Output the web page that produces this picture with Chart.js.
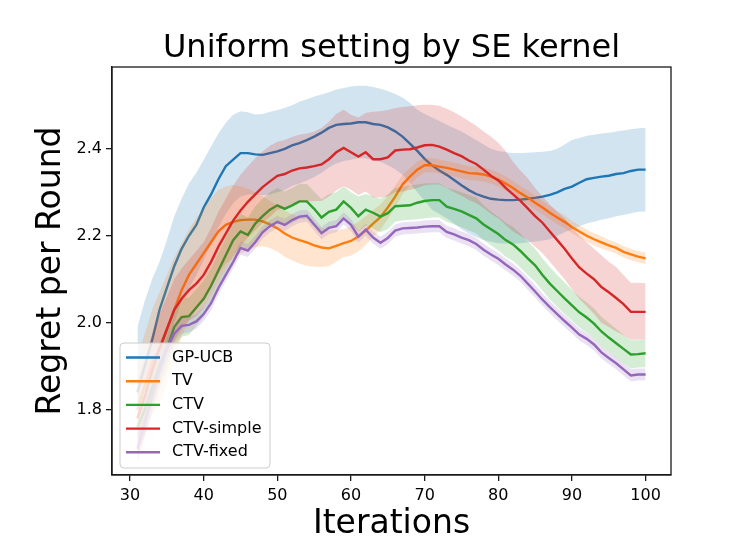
<!DOCTYPE html>
<html>
<head>
<meta charset="utf-8">
<script src="https://cdn.jsdelivr.net/npm/chart.js@4.4.0/dist/chart.umd.min.js"></script>
<style>
  html, body { margin: 0; padding: 0; background: #fff; }
  canvas { display: block; }
</style>
</head>
<body>
<canvas id="chart" width="747" height="560"></canvas>
<script>
// Iterations on the x axis
const iterations = [
  31, 32, 33, 34, 35, 36, 37, 38, 39, 40,
  41, 42, 43, 44, 45, 46, 47, 48, 49, 50,
  51, 52, 53, 54, 55, 56, 57, 58, 59, 60,
  61, 62, 63, 64, 65, 66, 67, 68, 69, 70,
  71, 72, 73, 74, 75, 76, 77, 78, 79, 80,
  81, 82, 83, 84, 85, 86, 87, 88, 89, 90,
  91, 92, 93, 94, 95, 96, 97, 98, 99, 100
];
const xTicks = [30, 40, 50, 60, 70, 80, 90, 100];
const yTicks = [1.8, 2.0, 2.2, 2.4];
const seriesNames = ['GP-UCB', 'TV', 'CTV', 'CTV-simple', 'CTV-fixed'];
const chartTitle = 'Uniform setting by SE kernel';

// GP-UCB
const gpUcbMean = [
  1.84, 1.90, 1.96, 2.03, 2.08, 2.13, 2.17, 2.20, 2.225, 2.265,
  2.295, 2.33, 2.36, 2.375, 2.39, 2.39, 2.387, 2.386, 2.39, 2.394,
  2.40, 2.408, 2.413, 2.42, 2.428, 2.437, 2.448, 2.455, 2.457, 2.458,
  2.461, 2.461, 2.457, 2.455, 2.449, 2.44, 2.428, 2.412, 2.395, 2.377,
  2.362, 2.35, 2.34, 2.328, 2.316, 2.305, 2.296, 2.29, 2.285, 2.283,
  2.282, 2.282, 2.283, 2.285, 2.287, 2.29, 2.294, 2.30, 2.308, 2.313,
  2.322, 2.33, 2.333, 2.336, 2.338, 2.342, 2.344, 2.349, 2.352, 2.352
];
const gpUcbUpper = [
  1.99, 2.05, 2.10, 2.14, 2.19, 2.245, 2.285, 2.32, 2.345, 2.375,
  2.405, 2.435, 2.46, 2.478, 2.486, 2.484, 2.479, 2.48, 2.485, 2.489,
  2.494, 2.50, 2.508, 2.514, 2.52, 2.525, 2.53, 2.536, 2.54, 2.543,
  2.545, 2.545, 2.542, 2.538, 2.533, 2.526, 2.518, 2.505, 2.49, 2.48,
  2.472, 2.464, 2.455, 2.447, 2.44, 2.43, 2.42, 2.41, 2.40, 2.395,
  2.392, 2.39, 2.39, 2.391, 2.392, 2.393, 2.395, 2.40, 2.41, 2.42,
  2.425, 2.43, 2.432, 2.435, 2.437, 2.44, 2.442, 2.445, 2.447, 2.448
];
const gpUcbLower = [
  1.71, 1.77, 1.83, 1.89, 1.95, 2.00, 2.05, 2.08, 2.11, 2.145,
  2.18, 2.22, 2.25, 2.275, 2.29, 2.295, 2.295, 2.293, 2.295, 2.30,
  2.305, 2.315, 2.32, 2.327, 2.335, 2.345, 2.357, 2.366, 2.372, 2.375,
  2.378, 2.378, 2.373, 2.37, 2.362, 2.353, 2.34, 2.322, 2.30, 2.28,
  2.26, 2.25, 2.24, 2.228, 2.215, 2.205, 2.197, 2.19, 2.186, 2.183,
  2.182, 2.182, 2.183, 2.185, 2.187, 2.189, 2.192, 2.20, 2.208, 2.215,
  2.222, 2.228, 2.232, 2.237, 2.24, 2.245, 2.248, 2.252, 2.255, 2.256
];

// TV
const tvMean = [
  1.80, 1.855, 1.91, 1.94, 1.985, 2.03, 2.075, 2.11, 2.135, 2.16,
  2.185, 2.21, 2.225, 2.232, 2.236, 2.237, 2.237, 2.233, 2.226, 2.217,
  2.205, 2.196, 2.19, 2.185, 2.178, 2.173, 2.171, 2.177, 2.183, 2.188,
  2.198, 2.212, 2.228, 2.243, 2.265, 2.29, 2.318, 2.336, 2.352, 2.362,
  2.362, 2.359, 2.356, 2.352, 2.348, 2.344, 2.343, 2.341, 2.336, 2.329,
  2.32, 2.31, 2.298, 2.288, 2.276, 2.265, 2.253, 2.242, 2.232, 2.22,
  2.21, 2.2, 2.192, 2.185, 2.178, 2.172, 2.163, 2.157, 2.152, 2.148
];
const tvUpper = [
  1.92, 1.975, 2.03, 2.07, 2.11, 2.15, 2.183, 2.215, 2.24, 2.265,
  2.287, 2.306, 2.313, 2.317, 2.313, 2.308, 2.30, 2.29, 2.28, 2.27,
  2.258, 2.249, 2.244, 2.239, 2.227, 2.218, 2.212, 2.214, 2.215, 2.222,
  2.232, 2.245, 2.259, 2.272, 2.292, 2.315, 2.34, 2.356, 2.37, 2.378,
  2.378, 2.375, 2.372, 2.368, 2.364, 2.36, 2.359, 2.357, 2.352, 2.345,
  2.336, 2.326, 2.314, 2.304, 2.292, 2.28, 2.268, 2.257, 2.247, 2.234,
  2.224, 2.214, 2.206, 2.199, 2.191, 2.185, 2.176, 2.17, 2.165, 2.161
];
const tvLower = [
  1.68, 1.735, 1.79, 1.81, 1.86, 1.91, 1.967, 2.005, 2.03, 2.055,
  2.083, 2.114, 2.137, 2.147, 2.159, 2.166, 2.174, 2.176, 2.172, 2.164,
  2.152, 2.143, 2.136, 2.131, 2.129, 2.128, 2.13, 2.14, 2.151, 2.154,
  2.164, 2.179, 2.197, 2.214, 2.238, 2.265, 2.296, 2.316, 2.334, 2.346,
  2.346, 2.343, 2.34, 2.336, 2.332, 2.328, 2.327, 2.325, 2.32, 2.313,
  2.304, 2.294, 2.282, 2.272, 2.26, 2.25, 2.238, 2.227, 2.217, 2.206,
  2.196, 2.186, 2.178, 2.171, 2.165, 2.159, 2.15, 2.144, 2.139, 2.135
];

// CTV
const ctvMean = [
  1.76, 1.80, 1.85, 1.90, 1.94, 1.99, 2.013, 2.015, 2.035, 2.055,
  2.085, 2.12, 2.155, 2.19, 2.21, 2.202, 2.228, 2.245, 2.26, 2.27,
  2.262, 2.27, 2.279, 2.279, 2.262, 2.242, 2.255, 2.26, 2.279, 2.264,
  2.245, 2.26, 2.253, 2.244, 2.252, 2.268, 2.269, 2.27, 2.276, 2.28,
  2.282, 2.282, 2.267, 2.262, 2.256, 2.248, 2.24, 2.226, 2.215, 2.204,
  2.19, 2.18, 2.165, 2.148, 2.132, 2.11, 2.09, 2.073, 2.056, 2.04,
  2.024, 2.012, 1.998, 1.98, 1.966, 1.953, 1.94, 1.927, 1.928, 1.93
];
const ctvUpper = [
  1.82, 1.86, 1.91, 1.955, 1.99, 2.035, 2.058, 2.058, 2.077, 2.097,
  2.125, 2.16, 2.195, 2.23, 2.25, 2.242, 2.268, 2.285, 2.30, 2.31,
  2.302, 2.31, 2.319, 2.319, 2.302, 2.284, 2.296, 2.30, 2.313, 2.30,
  2.29, 2.296, 2.29, 2.285, 2.295, 2.31, 2.312, 2.316, 2.318, 2.32,
  2.321, 2.321, 2.31, 2.306, 2.30, 2.294, 2.288, 2.27, 2.256, 2.244,
  2.23, 2.22, 2.205, 2.188, 2.17, 2.148, 2.128, 2.11, 2.093, 2.076,
  2.06, 2.047, 2.033, 2.014, 2.0, 1.986, 1.973, 1.96, 1.96, 1.961
];
const ctvLower = [
  1.70, 1.74, 1.79, 1.845, 1.89, 1.945, 1.968, 1.972, 1.993, 2.013,
  2.045, 2.08, 2.115, 2.15, 2.17, 2.162, 2.188, 2.205, 2.22, 2.23,
  2.222, 2.23, 2.239, 2.239, 2.222, 2.206, 2.216, 2.22, 2.245, 2.228,
  2.21, 2.224, 2.216, 2.208, 2.215, 2.232, 2.235, 2.237, 2.238, 2.24,
  2.242, 2.242, 2.232, 2.226, 2.22, 2.212, 2.205, 2.19, 2.178, 2.166,
  2.152, 2.142, 2.127, 2.11, 2.094, 2.074, 2.054, 2.037, 2.02, 2.005,
  1.989, 1.978, 1.964, 1.946, 1.933, 1.92, 1.907, 1.895, 1.897, 1.898
];

// CTV-simple
const ctvSimpleMean = [
  1.78, 1.83, 1.89, 1.94, 1.985, 2.03, 2.055, 2.075, 2.09, 2.11,
  2.14, 2.175, 2.205, 2.235, 2.258, 2.278, 2.295, 2.312, 2.325, 2.338,
  2.342, 2.35, 2.355, 2.357, 2.36, 2.364, 2.376, 2.392, 2.402, 2.392,
  2.382, 2.392, 2.376, 2.376, 2.38, 2.396, 2.398, 2.399, 2.403, 2.408,
  2.409, 2.405, 2.398, 2.39, 2.383, 2.373, 2.365, 2.352, 2.338, 2.327,
  2.31, 2.295, 2.28, 2.263, 2.245, 2.23, 2.21, 2.19, 2.17, 2.148,
  2.127, 2.113, 2.1, 2.082, 2.07, 2.057, 2.043, 2.025, 2.025, 2.025
];
const ctvSimpleUpper = [
  1.87, 1.92, 1.975, 2.02, 2.06, 2.10, 2.125, 2.145, 2.165, 2.185,
  2.218, 2.255, 2.285, 2.315, 2.34, 2.36, 2.378, 2.394, 2.407, 2.416,
  2.42, 2.427, 2.432, 2.435, 2.44, 2.448, 2.462, 2.48, 2.49, 2.478,
  2.472, 2.482, 2.485, 2.486, 2.489, 2.494, 2.496, 2.498, 2.50, 2.501,
  2.501, 2.499, 2.492, 2.484, 2.474, 2.464, 2.453, 2.44, 2.428, 2.414,
  2.395, 2.37, 2.35, 2.332, 2.31, 2.29, 2.272, 2.255, 2.24, 2.22,
  2.20, 2.185, 2.17, 2.155, 2.14, 2.128, 2.11, 2.092, 2.092, 2.091
];
const ctvSimpleLower = [
  1.69, 1.74, 1.805, 1.86, 1.91, 1.96, 1.985, 2.005, 2.015, 2.035,
  2.062, 2.095, 2.125, 2.155, 2.176, 2.196, 2.212, 2.23, 2.243, 2.26,
  2.264, 2.273, 2.278, 2.279, 2.28, 2.28, 2.29, 2.304, 2.314, 2.306,
  2.294, 2.302, 2.288, 2.288, 2.29, 2.30, 2.302, 2.306, 2.31, 2.316,
  2.318, 2.318, 2.31, 2.30, 2.292, 2.282, 2.275, 2.264, 2.25, 2.24,
  2.225, 2.21, 2.20, 2.19, 2.175, 2.16, 2.14, 2.12, 2.10, 2.077,
  2.055, 2.038, 2.02, 2.0, 1.99, 1.98, 1.972, 1.961, 1.961, 1.961
];

// CTV-fixed
const ctvFixedMean = [
  1.71, 1.77, 1.83, 1.89, 1.94, 1.975, 1.993, 1.995, 2.003, 2.02,
  2.045, 2.08, 2.11, 2.14, 2.172, 2.166, 2.185, 2.208, 2.222, 2.232,
  2.225, 2.236, 2.244, 2.246, 2.226, 2.206, 2.218, 2.222, 2.24, 2.225,
  2.198, 2.214, 2.196, 2.184, 2.195, 2.212, 2.217, 2.218, 2.219, 2.221,
  2.222, 2.222, 2.209, 2.203, 2.196, 2.19, 2.181, 2.168, 2.157, 2.147,
  2.134, 2.122, 2.108, 2.09, 2.072, 2.053, 2.036, 2.02, 2.004, 1.989,
  1.973, 1.963, 1.95, 1.932, 1.919, 1.907, 1.893, 1.879, 1.881, 1.881
];
const ctvFixedUpper = [
  1.74, 1.80, 1.86, 1.915, 1.963, 1.995, 2.011, 2.012, 2.02, 2.036,
  2.061, 2.095, 2.125, 2.155, 2.187, 2.181, 2.2, 2.222, 2.236, 2.246,
  2.239, 2.25, 2.258, 2.26, 2.24, 2.22, 2.232, 2.236, 2.254, 2.239,
  2.212, 2.228, 2.21, 2.198, 2.209, 2.226, 2.231, 2.232, 2.233, 2.235,
  2.236, 2.236, 2.223, 2.217, 2.21, 2.204, 2.195, 2.182, 2.171, 2.161,
  2.148, 2.136, 2.122, 2.104, 2.086, 2.067, 2.05, 2.034, 2.018, 2.003,
  1.987, 1.977, 1.964, 1.946, 1.933, 1.921, 1.907, 1.893, 1.895, 1.895
];
const ctvFixedLower = [
  1.68, 1.74, 1.80, 1.865, 1.917, 1.955, 1.975, 1.978, 1.986, 2.004,
  2.029, 2.065, 2.095, 2.125, 2.157, 2.151, 2.17, 2.194, 2.208, 2.218,
  2.211, 2.222, 2.23, 2.232, 2.212, 2.192, 2.204, 2.208, 2.226, 2.211,
  2.184, 2.2, 2.182, 2.17, 2.181, 2.198, 2.203, 2.204, 2.205, 2.207,
  2.208, 2.208, 2.195, 2.189, 2.182, 2.176, 2.167, 2.154, 2.143, 2.133,
  2.12, 2.108, 2.094, 2.076, 2.058, 2.039, 2.022, 2.006, 1.99, 1.975,
  1.959, 1.949, 1.936, 1.918, 1.905, 1.893, 1.879, 1.865, 1.867, 1.867
];

const colors = ['#1f77b4', '#ff7f0e', '#2ca02c', '#d62728', '#9467bd'];
const bandColors = [
  'rgba(31,119,180,0.2)', 'rgba(255,127,14,0.2)', 'rgba(44,160,44,0.2)',
  'rgba(214,39,40,0.2)', 'rgba(148,103,189,0.2)'
];

const series = [
  { mean: gpUcbMean, upper: gpUcbUpper, lower: gpUcbLower },
  { mean: tvMean, upper: tvUpper, lower: tvLower },
  { mean: ctvMean, upper: ctvUpper, lower: ctvLower },
  { mean: ctvSimpleMean, upper: ctvSimpleUpper, lower: ctvSimpleLower },
  { mean: ctvFixedMean, upper: ctvFixedUpper, lower: ctvFixedLower }
];

function points(values) {
  return iterations.map((x, i) => ({ x: x, y: values[i] }));
}

// line first, then its band on top, like plot() + fill_between()
const datasets = [];
series.forEach((s, i) => {
  const base = 100 - i * 10;
  datasets.push({
    label: seriesNames[i], data: points(s.mean), borderColor: colors[i],
    borderWidth: 2.4, pointRadius: 0, fill: false, order: base
  });
  datasets.push({
    label: '', data: points(s.upper), borderColor: 'transparent',
    borderWidth: 0, pointRadius: 0, fill: false, order: base - 5
  });
  datasets.push({
    label: '', data: points(s.lower), borderColor: 'transparent',
    borderWidth: 0, pointRadius: 0, backgroundColor: bandColors[i],
    fill: '-1', order: base - 5
  });
});

const decorPlugin = {
  id: 'decor',
  afterDraw(chart) {
    const ctx = chart.ctx;
    const a = chart.chartArea;
    ctx.save();

    // top and right spines
    ctx.strokeStyle = '#1a1a1a';
    ctx.lineWidth = 1.3;
    ctx.strokeRect(a.left, a.top, a.right - a.left, a.bottom - a.top);

    // title
    ctx.fillStyle = '#000';
    ctx.font = '32px "DejaVu Sans"';
    ctx.textAlign = 'center';
    ctx.textBaseline = 'alphabetic';
    ctx.fillText(chartTitle, (a.left + a.right) / 2, 57);

    // legend box, lower left inside the axes
    const boxW = 150, boxH = 125;
    const boxX = a.left + 8;
    const boxY = a.bottom - 7 - boxH;
    ctx.beginPath();
    if (ctx.roundRect) ctx.roundRect(boxX, boxY, boxW, boxH, 4);
    else ctx.rect(boxX, boxY, boxW, boxH);
    ctx.fillStyle = 'rgba(255,255,255,0.8)';
    ctx.fill();
    ctx.strokeStyle = '#cccccc';
    ctx.lineWidth = 1;
    ctx.stroke();

    ctx.font = '16px "DejaVu Sans"';
    ctx.textAlign = 'left';
    ctx.textBaseline = 'middle';
    seriesNames.forEach((name, i) => {
      const y = boxY + 14.5 + i * 23.7;
      ctx.strokeStyle = colors[i];
      ctx.lineWidth = 2.4;
      ctx.beginPath();
      ctx.moveTo(boxX + 6, y);
      ctx.lineTo(boxX + 40, y);
      ctx.stroke();
      ctx.fillStyle = '#000';
      ctx.fillText(name, boxX + 52, y);
    });
    ctx.restore();
  }
};

Chart.defaults.font.family = '"DejaVu Sans", sans-serif';
Chart.defaults.color = '#000';

const axisGrid = { drawOnChartArea: false, drawTicks: true, tickLength: 6, color: '#1a1a1a', lineWidth: 1.3 };
const axisBorder = { display: true, color: '#1a1a1a', width: 1.3 };

new Chart(document.getElementById('chart'), {
  type: 'line',
  data: { datasets: datasets },
  options: {
    responsive: false,
    animation: false,
    devicePixelRatio: 1,
    events: [],
    layout: { padding: { left: 0, top: 67, right: 76, bottom: 0 } },
    elements: { line: { tension: 0 }, point: { radius: 0 } },
    plugins: { legend: { display: false }, tooltip: { enabled: false }, title: { display: false } },
    scales: {
      x: {
        type: 'linear', min: 27.55, max: 103.45,
        afterBuildTicks: s => { s.ticks = xTicks.map(v => ({ value: v })); },
        afterFit: s => { s.height = 85; },
        ticks: { font: { size: 16 }, padding: 5, maxRotation: 0, autoSkip: false, callback: v => String(v) },
        grid: axisGrid,
        border: axisBorder,
        title: { display: true, text: 'Iterations', font: { size: 33 }, padding: { top: 0, bottom: 16 } }
      },
      y: {
        type: 'linear', min: 1.65, max: 2.588,
        afterBuildTicks: s => { s.ticks = yTicks.map(v => ({ value: v })); },
        afterFit: s => { s.width = 112; },
        ticks: { font: { size: 16 }, padding: 4, autoSkip: false, callback: v => v.toFixed(1) },
        grid: axisGrid,
        border: axisBorder,
        title: { display: true, text: 'Regret per Round', font: { size: 33 }, padding: { top: 32, bottom: 0 } }
      }
    }
  },
  plugins: [decorPlugin]
});
</script>
</body>
</html>
